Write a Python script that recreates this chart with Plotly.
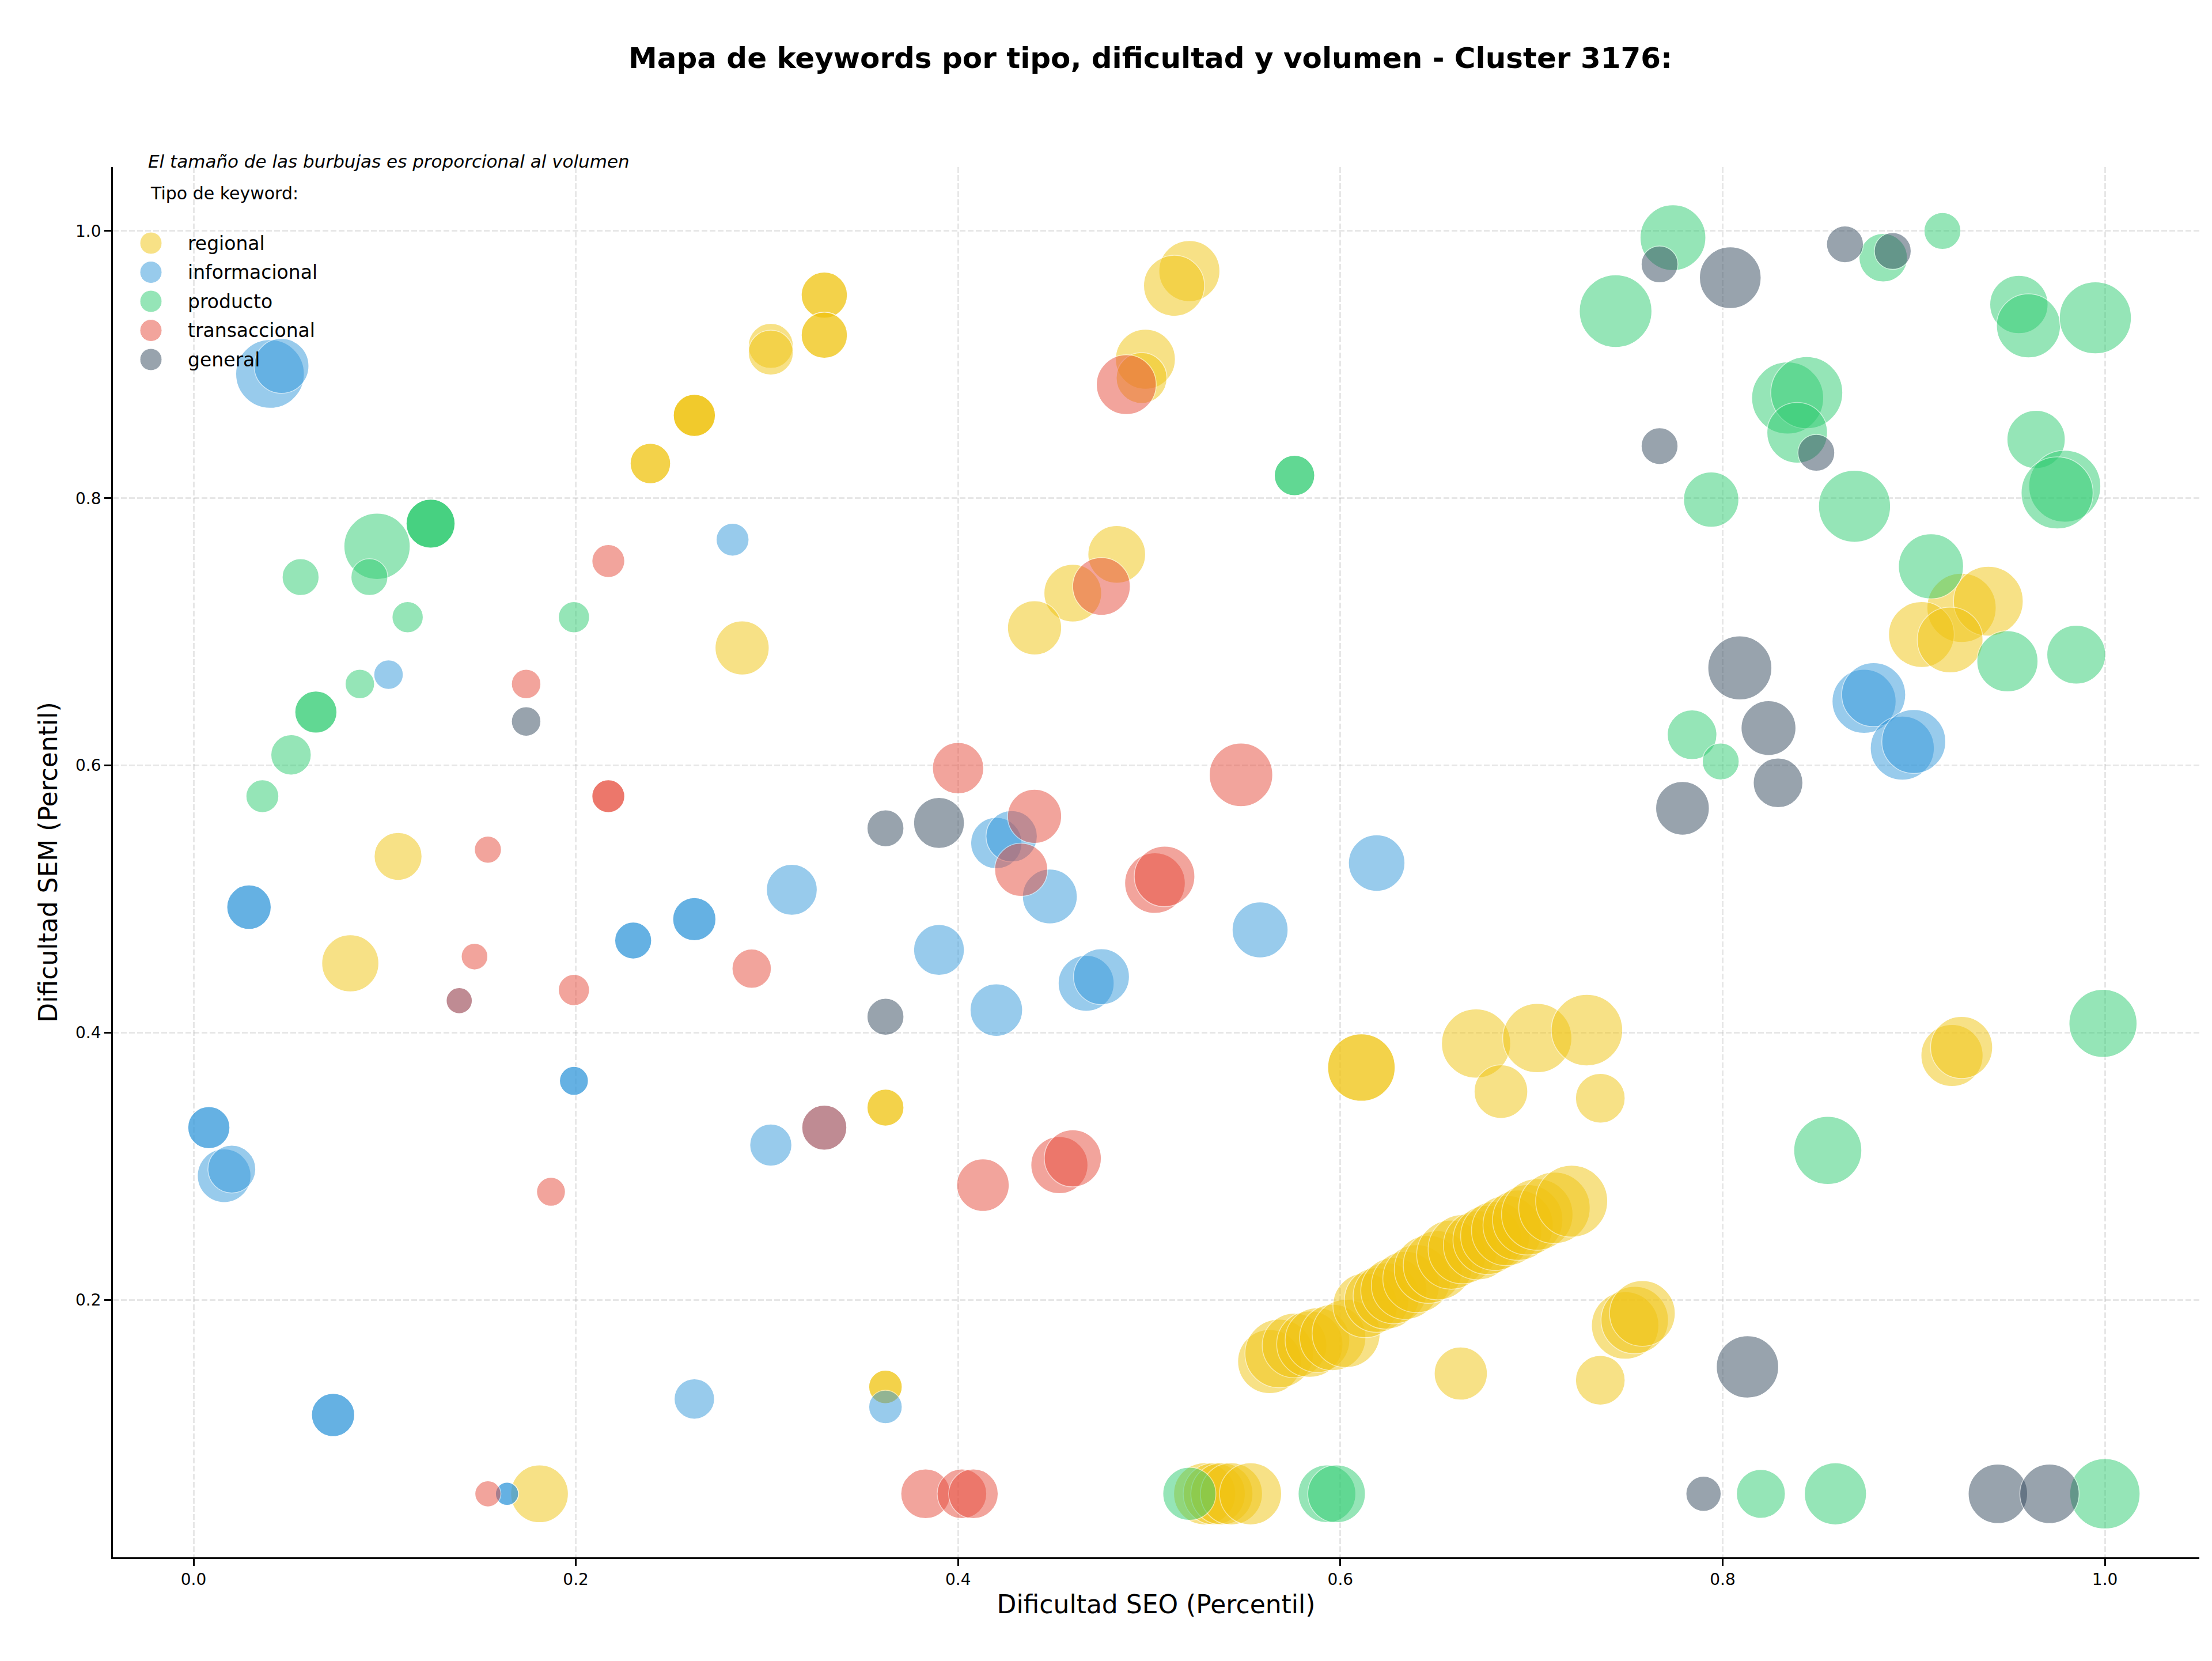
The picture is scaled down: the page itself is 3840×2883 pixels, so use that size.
import plotly.graph_objects as go

# ---------------- data ----------------
tipos = ["regional", "informacional", "producto", "transaccional", "general"]
colores = ["#F1C40F", "#3498DB", "#2ECC71", "#E74C3C", "#34495E"]

# regional
reg_x = [0.302, 0.302, 0.330, 0.330, 0.330, 0.330, 0.262, 0.262, 0.262, 0.239, 0.239,
         0.521, 0.513, 0.498, 0.496, 0.483, 0.460, 0.440, 0.287, 0.107, 0.082,
         0.362, 0.362, 0.362, 0.362, 0.181,
         0.529, 0.534, 0.538, 0.543, 0.553,
         0.611, 0.611, 0.671, 0.703, 0.729, 0.684, 0.736, 0.663, 0.736,
         0.749, 0.754, 0.758,
         0.563, 0.568, 0.576, 0.584, 0.588, 0.596, 0.603, 0.613, 0.619, 0.624, 0.628,
         0.634, 0.640, 0.646, 0.651, 0.658, 0.664, 0.672, 0.677, 0.681, 0.687, 0.693,
         0.698, 0.703, 0.712, 0.721,
         0.925, 0.939, 0.904, 0.919, 0.920, 0.925]
reg_y = [0.914, 0.909, 0.952, 0.952, 0.922, 0.922, 0.862, 0.862, 0.862, 0.826, 0.826,
         0.970, 0.959, 0.904, 0.890, 0.758, 0.729, 0.703, 0.688, 0.532, 0.452,
         0.344, 0.344, 0.135, 0.135, 0.055,
         0.055, 0.055, 0.055, 0.055, 0.055,
         0.374, 0.374, 0.392, 0.396, 0.402, 0.356, 0.351, 0.145, 0.140,
         0.181, 0.185, 0.190,
         0.154, 0.160, 0.166, 0.167, 0.170, 0.172, 0.175, 0.196, 0.200, 0.203, 0.207,
         0.211, 0.216, 0.223, 0.226, 0.234, 0.238, 0.241, 0.245, 0.248, 0.252, 0.256,
         0.260, 0.264, 0.269, 0.274,
         0.718, 0.723, 0.698, 0.694, 0.383, 0.389]
reg_vol = [1520, 1520, 1600, 1600, 1600, 1600, 1330, 1330, 1330, 1225, 1225,
           2800, 2800, 2700, 1940, 2500, 2500, 2200, 2200, 1720, 2450,
           1020, 1020, 840, 840, 2500,
           2900, 2900, 2900, 2900, 2900,
           3420, 3420, 3600, 3600, 3840, 2160, 1850, 2120, 1850,
           3420, 3420, 3250,
           3080, 3540, 3140, 3300, 3140, 3300, 3480, 3140, 3140, 3300, 3300,
           3480, 3480, 3480, 3600, 3600, 3600, 3600, 3600, 3600, 3720, 3720,
           3720, 3840, 3840, 3900,
           3600, 3660, 3250, 3250, 2900, 2900]

# informacional
inf_x = [0.040, 0.046, 0.282, 0.102, 0.029, 0.029, 0.008, 0.008, 0.016, 0.020,
         0.073, 0.073, 0.164, 0.164, 0.262, 0.362, 0.302, 0.330, 0.139,
         0.199, 0.199, 0.230, 0.230, 0.262, 0.262, 0.313, 0.390, 0.420, 0.420, 0.428,
         0.448, 0.467, 0.475, 0.558, 0.619, 0.874, 0.879, 0.894, 0.900]
inf_y = [0.893, 0.899, 0.769, 0.668, 0.494, 0.494, 0.329, 0.329, 0.293, 0.298,
         0.114, 0.114, 0.055, 0.055, 0.126, 0.120, 0.316, 0.329, 0.424,
         0.364, 0.364, 0.469, 0.469, 0.485, 0.485, 0.507, 0.462, 0.417, 0.542, 0.547,
         0.502, 0.437, 0.442, 0.477, 0.527, 0.648, 0.653, 0.613, 0.618]
inf_vol = [3540, 2260, 810, 650, 1480, 1480, 1330, 1330, 2160, 1720,
           1400, 1400, 400, 400, 1225, 840, 1330, 1520, 510,
           625, 625, 1020, 1020, 1400, 1400, 1940, 1940, 2070, 1980, 1980,
           2260, 2350, 2350, 2350, 2400, 3080, 3080, 3080, 3080]

# producto
pro_x = [0.096, 0.124, 0.124, 0.124, 0.056, 0.092, 0.112, 0.199, 0.087, 0.064, 0.064,
         0.051, 0.036, 0.576, 0.576,
         0.521, 0.593, 0.598, 0.820, 0.859, 1.000,
         0.774, 0.744, 0.884, 0.915, 0.955, 0.960, 0.995, 0.834, 0.844, 0.839,
         0.794, 0.869, 0.964, 0.979, 0.975, 0.909, 0.949, 0.985, 0.784, 0.799,
         0.855, 0.999]
pro_y = [0.764, 0.781, 0.781, 0.781, 0.741, 0.741, 0.711, 0.711, 0.661, 0.640, 0.640,
         0.608, 0.577, 0.817, 0.817,
         0.055, 0.055, 0.055, 0.055, 0.055, 0.055,
         0.995, 0.940, 0.980, 1.000, 0.945, 0.929, 0.935, 0.875, 0.879, 0.849,
         0.799, 0.794, 0.844, 0.809, 0.804, 0.749, 0.678, 0.683, 0.623, 0.603,
         0.312, 0.407]
pro_vol = [3300, 1800, 1800, 1800, 1020, 1020, 730, 730, 650, 1330, 1330,
           1225, 810, 1225, 1225,
           2120, 2500, 2500, 1800, 2900, 3720,
           3250, 3970, 1760, 1020, 2550, 3080, 3900, 3900, 3900, 2760,
           2300, 3900, 2550, 3900, 3900, 3190, 2810, 2600, 1850, 1020,
           3480, 3480]

# transaccional
tra_x = [0.217, 0.174, 0.217, 0.217, 0.154, 0.147, 0.139, 0.199, 0.187, 0.292, 0.330,
         0.400, 0.440, 0.433, 0.413, 0.453, 0.460, 0.503, 0.508, 0.548, 0.488, 0.475,
         0.154, 0.383, 0.402, 0.408]
tra_y = [0.753, 0.661, 0.577, 0.577, 0.537, 0.457, 0.424, 0.432, 0.281, 0.448, 0.329,
         0.598, 0.562, 0.522, 0.286, 0.301, 0.306, 0.512, 0.517, 0.593, 0.885, 0.734,
         0.055, 0.055, 0.055, 0.055]
tra_vol = [810, 650, 810, 810, 550, 530, 510, 730, 625, 1160, 1520,
           1980, 2200, 2120, 2070, 2450, 2450, 2760, 2760, 3030, 2700, 2500,
           510, 1850, 1850, 1850]

# general
gen_x = [0.174, 0.362, 0.390, 0.362, 0.767, 0.804, 0.864, 0.889, 0.767, 0.849,
         0.809, 0.824, 0.829, 0.779, 0.813, 0.790, 0.944, 0.971]
gen_y = [0.633, 0.553, 0.557, 0.412, 0.975, 0.965, 0.990, 0.985, 0.839, 0.834,
         0.673, 0.628, 0.587, 0.568, 0.150, 0.055, 0.055, 0.055]
gen_vol = [650, 1020, 1940, 1020, 1020, 2860, 1020, 1020, 1020, 1020,
           3080, 2260, 1850, 2160, 2920, 930, 2650, 2650]

series_x = [reg_x, inf_x, pro_x, tra_x, gen_x]
series_y = [reg_y, inf_y, pro_y, tra_y, gen_y]
series_vol = [reg_vol, inf_vol, pro_vol, tra_vol, gen_vol]

titulo = "Mapa de keywords por tipo, dificultad y volumen - Cluster 3176:"
subtitulo = "El tamaño de las burbujas es proporcional al volumen"
titulo_leyenda = "Tipo de keyword:"
x_label = "Dificultad SEO (Percentil)"
y_label = "Dificultad SEM (Percentil)"
tick_vals = [0.0, 0.2, 0.4, 0.6, 0.8, 1.0]

# ---------------- layout geometry (pixels) ----------------
W, H = 3840, 2883
L, R, T, B = 196, 3818, 290, 2703
FONT = "DejaVu Sans"


def px_x(X):
    return (X - L) / (R - L)


def px_y(Y):
    return (B - Y) / (B - T)


fig = go.Figure()
for tipo, col, xs, ys, vs in zip(tipos, colores, series_x, series_y, series_vol):
    fig.add_trace(go.Scatter(
        x=xs, y=ys, mode="markers", name=tipo, showlegend=False,
        marker=dict(size=vs, sizemode="area", sizeref=0.5, color=col, opacity=0.5,
                    line=dict(color="white", width=1.5)),
        hovertemplate=tipo + "<br>SEO %{x}<br>SEM %{y}<extra></extra>",
    ))

shapes = []
annotations = []
# custom legend
for i, (tipo, col) in enumerate(zip(tipos, colores)):
    cy = 422 + 50.5 * i
    cx = 262
    r = 19
    shapes.append(dict(type="circle", xref="paper", yref="paper",
                       x0=px_x(cx - r), x1=px_x(cx + r), y0=px_y(cy + r), y1=px_y(cy - r),
                       fillcolor=col, opacity=0.5, line=dict(color="white", width=1)))
    annotations.append(dict(text=tipo, xref="paper", yref="paper", x=px_x(324), y=px_y(cy),
                            xanchor="left", yanchor="middle", showarrow=False,
                            font=dict(family=FONT, size=33, color="black")))

annotations.append(dict(text=titulo_leyenda, xref="paper", yref="paper", x=px_x(259), y=px_y(335),
                        xanchor="left", yanchor="middle", showarrow=False,
                        font=dict(family=FONT, size=30, color="black")))
annotations.append(dict(text="<i>" + subtitulo + "</i>", xref="paper", yref="paper",
                        x=px_x(255), y=px_y(280), xanchor="left", yanchor="middle",
                        showarrow=False, font=dict(family=FONT, size=31, color="black")))

axis_common = dict(
    showline=True, linecolor="black", linewidth=2.7, mirror=False,
    ticks="outside", ticklen=12, tickwidth=2.7, tickcolor="black",
    tickfont=dict(family=FONT, size=28, color="black"),
    showgrid=True, gridcolor="rgba(176,176,176,0.3)", gridwidth=2.7, griddash="10px,4px",
    zeroline=False, tickvals=tick_vals, tickformat=".1f",
)

fig.update_layout(
    width=W, height=H,
    margin=dict(l=L, r=W - R, t=T, b=H - B, autoexpand=False),
    paper_bgcolor="white", plot_bgcolor="white",
    font=dict(family=FONT, color="black"),
    title=dict(text="<b>" + titulo + "</b>", x=1997 / W, xref="container", xanchor="center",
               y=1 - 100 / H, yref="container", yanchor="middle",
               font=dict(family=FONT, size=50, color="black")),
    xaxis=dict(range=[-0.0422, 1.0494],
               title=dict(text=x_label, font=dict(family=FONT, size=44), standoff=12),
               **axis_common),
    yaxis=dict(range=[0.0075, 1.0478],
               title=dict(text=y_label, font=dict(family=FONT, size=44), standoff=18),
               **axis_common),
    shapes=shapes, annotations=annotations, showlegend=False,
)

fig.write_html("out.html")
